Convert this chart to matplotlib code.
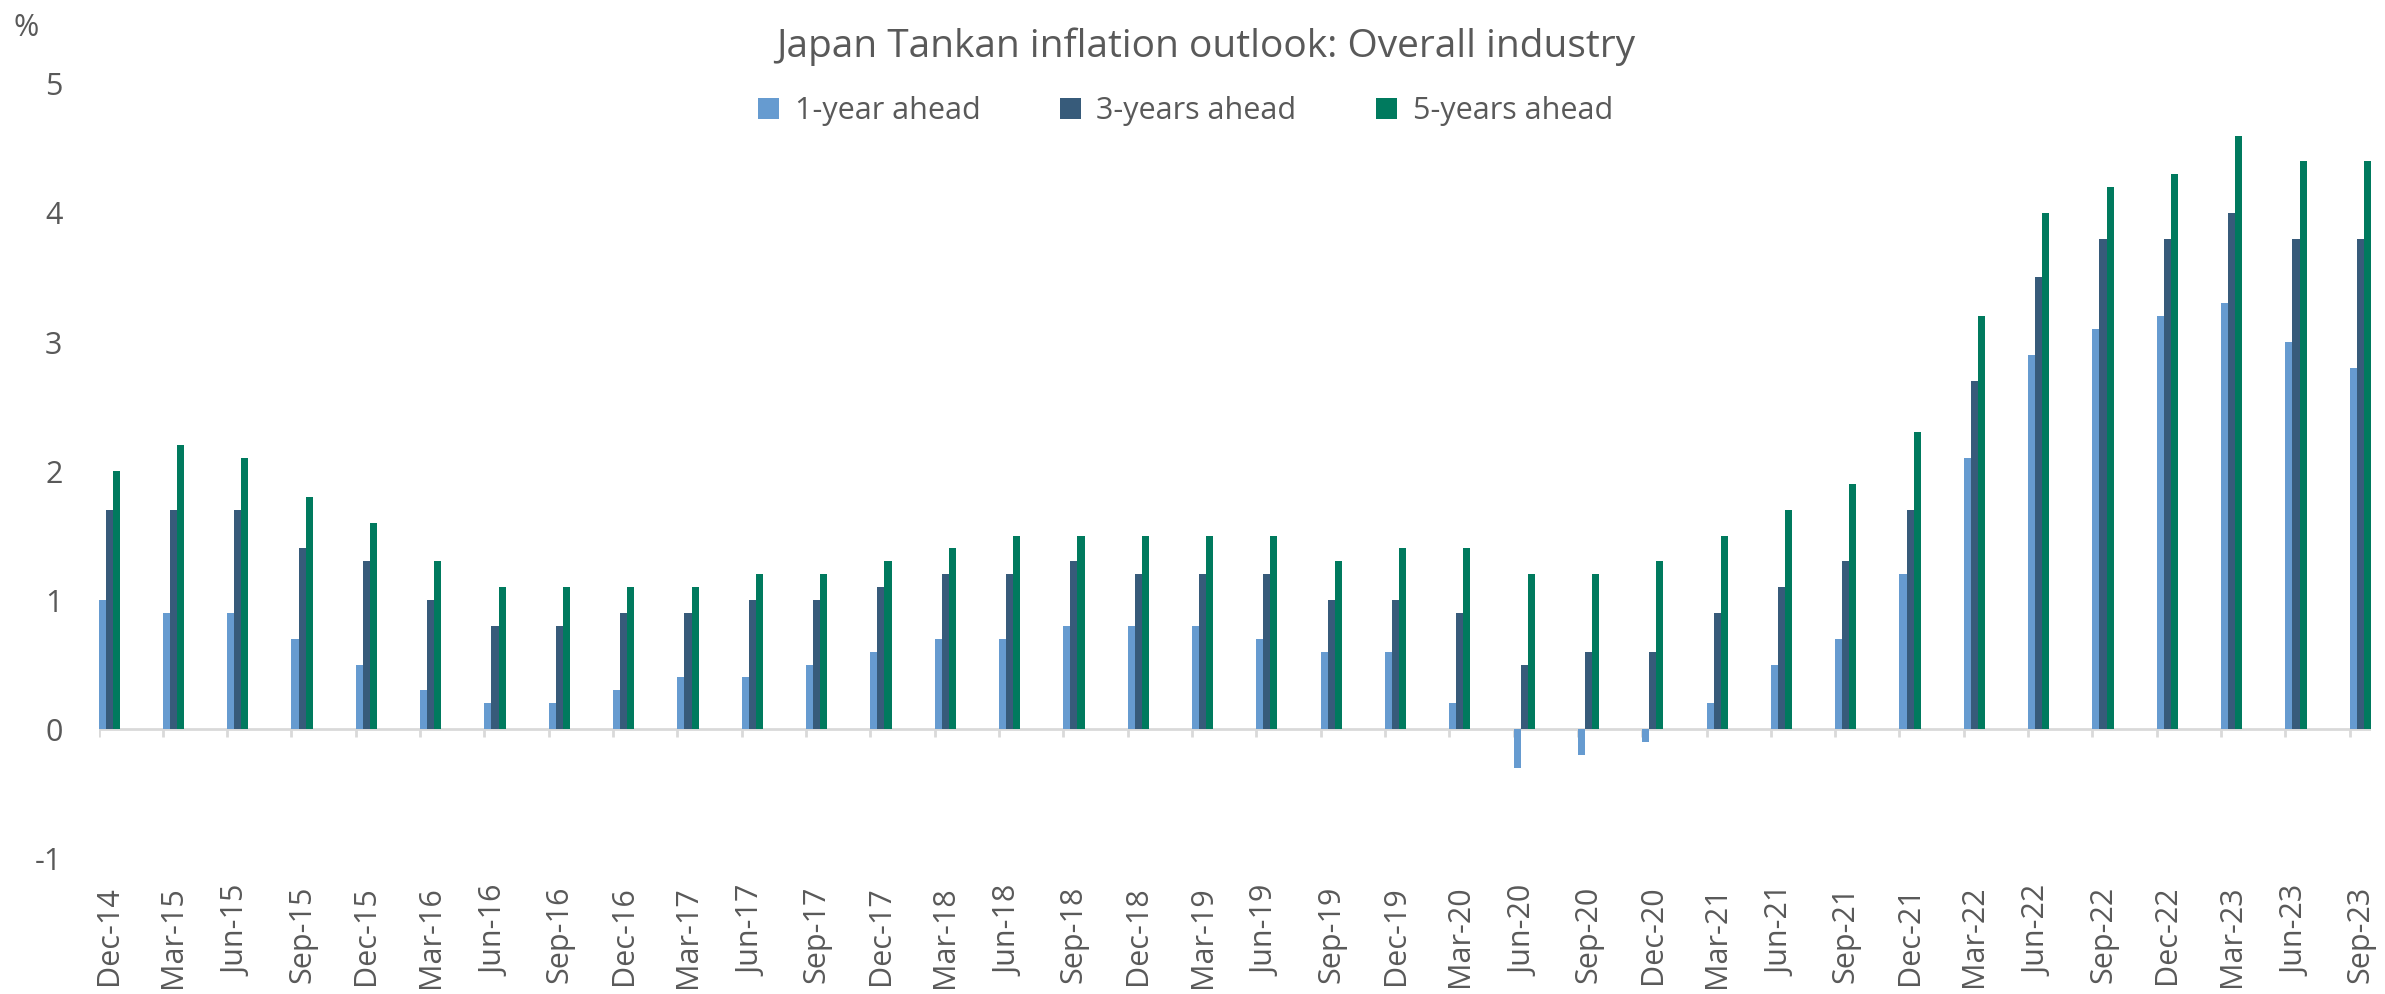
import numpy as np
import matplotlib.pyplot as plt

plt.rcParams['font.family'] = ['Open Sans', 'DejaVu Sans']

quarters = ['Dec-14', 'Mar-15', 'Jun-15', 'Sep-15', 'Dec-15', 'Mar-16', 'Jun-16', 'Sep-16', 'Dec-16',
            'Mar-17', 'Jun-17', 'Sep-17', 'Dec-17', 'Mar-18', 'Jun-18', 'Sep-18', 'Dec-18', 'Mar-19',
            'Jun-19', 'Sep-19', 'Dec-19', 'Mar-20', 'Jun-20', 'Sep-20', 'Dec-20', 'Mar-21', 'Jun-21',
            'Sep-21', 'Dec-21', 'Mar-22', 'Jun-22', 'Sep-22', 'Dec-22', 'Mar-23', 'Jun-23', 'Sep-23']

one_year = [1.0, 0.9, 0.9, 0.7, 0.5, 0.3, 0.2, 0.2, 0.3, 0.4, 0.4, 0.5, 0.6, 0.7, 0.7, 0.8, 0.8, 0.8,
            0.7, 0.6, 0.6, 0.2, -0.3, -0.2, -0.1, 0.2, 0.5, 0.7, 1.2, 2.1, 2.9, 3.1, 3.2, 3.3, 3.0, 2.8]
three_years = [1.7, 1.7, 1.7, 1.4, 1.3, 1.0, 0.8, 0.8, 0.9, 0.9, 1.0, 1.0, 1.1, 1.2, 1.2, 1.3, 1.2, 1.2,
               1.2, 1.0, 1.0, 0.9, 0.5, 0.6, 0.6, 0.9, 1.1, 1.3, 1.7, 2.7, 3.5, 3.8, 3.8, 4.0, 3.8, 3.8]
five_years = [2.0, 2.2, 2.1, 1.8, 1.6, 1.3, 1.1, 1.1, 1.1, 1.1, 1.2, 1.2, 1.3, 1.4, 1.5, 1.5, 1.5, 1.5,
              1.5, 1.3, 1.4, 1.4, 1.2, 1.2, 1.3, 1.5, 1.7, 1.9, 2.3, 3.2, 4.0, 4.2, 4.3, 4.6, 4.4, 4.4]

series = [('1-year ahead', one_year, '#669BD0'),
          ('3-years ahead', three_years, '#375B7A'),
          ('5-years ahead', five_years, '#007A5E')]

grey = '#595959'
w = 0.11

fig = plt.figure(figsize=(23.85, 9.94), dpi=100)
ax = fig.add_axes([0.0413, 0.1368, 0.9528, 0.7787])

x = np.arange(len(quarters))
for k, (name, vals, col) in enumerate(series):
    ax.bar(x + k * w, vals, width=w, align='edge', color=col, label=name, zorder=2)

# category axis drawn at zero with tick marks between groups
ax.axhline(0, color='#D9D9D9', lw=2, zorder=1)
ax.vlines(x, -0.065, 0, color='#D9D9D9', lw=2, zorder=1)

ax.set_xlim(0, len(quarters) - 1 + 3 * w)
ax.set_ylim(-1, 5)
ax.set_yticks(range(-1, 6))
ax.set_yticklabels([str(v) for v in range(-1, 6)])
ax.set_xticks(x + 1.5 * w)
ax.set_xticklabels(quarters, rotation=90)
ax.tick_params(axis='y', length=0, pad=26, labelsize=22, labelcolor=grey)
ax.tick_params(axis='x', length=0, pad=20, labelsize=22, labelcolor=grey)
for s in ax.spines.values():
    s.set_visible(False)

fig.text(0.5057, 0.953, 'Japan Tankan inflation outlook: Overall industry',
         ha='center', va='center', fontsize=28, color=grey)
fig.text(0.011, 0.972, '%', ha='center', va='center', fontsize=22, color=grey)

fig.legend(loc='center', bbox_to_anchor=(0.497, 0.888), ncol=3, frameon=False,
           fontsize=22, labelcolor=grey, handlelength=0.7, handleheight=0.7,
           handletextpad=0.5, columnspacing=2.6)

fig.savefig('out.png', dpi=100)
